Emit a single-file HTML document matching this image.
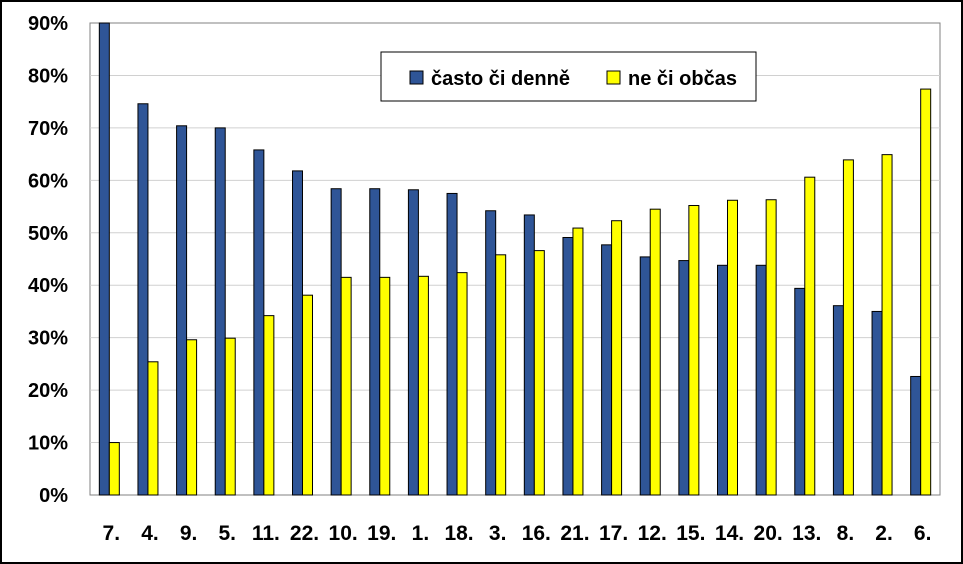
<!DOCTYPE html>
<html><head><meta charset="utf-8"><style>
body{margin:0;background:#fff}
#w{position:relative;width:963px;height:564px;box-sizing:border-box;border:2px solid #000;background:#fff;font-family:"Liberation Sans",sans-serif}
</style></head><body>
<div id="w">
<svg id="s" width="959" height="560" style="position:absolute;left:0;top:0"></svg>
</div>
<script>
const categories=["7.","4.","9.","5.","11.","22.","10.","19.","1.","18.","3.","16.","21.","17.","12.","15.","14.","20.","13.","8.","2.","6."];
const often=[90,74.6,70.4,70,65.8,61.8,58.4,58.4,58.2,57.5,54.2,53.4,49.1,47.7,45.4,44.7,43.8,43.8,39.4,36.1,35,22.6];
const rarely=[10,25.4,29.6,29.9,34.2,38.1,41.5,41.5,41.7,42.4,45.8,46.6,50.9,52.3,54.5,55.2,56.2,56.3,60.6,63.9,64.9,77.4];
const ticks=[0,10,20,30,40,50,60,70,80,90];
const NS="http://www.w3.org/2000/svg",s=document.getElementById('s');
const L=88,R=938,T=21,B=493,MAX=90;
const y=v=>B-(v/MAX)*(B-T);
const bw=(R-L)/categories.length;
const xc=i=>L+bw*(i+0.5);
function mk(t,a,p){const e=document.createElementNS(NS,t);for(const k in a)e.setAttribute(k,a[k]);(p||s).appendChild(e);return e;}
mk('rect',{x:L,y:T,width:R-L,height:B-T,fill:'#fff',stroke:'#808080','stroke-width':1});
ticks.forEach(t=>{
 if(t>0&&t<MAX){const g=mk('line',{x1:L,x2:R,y1:y(t),y2:y(t),stroke:'#d0d0d0'});
 
 }
 const tx=mk('text',{x:66,y:y(t)+7,'text-anchor':'end','font-size':20,'font-weight':'bold'});
 tx.textContent=t+'%';
 
 
});
categories.forEach((c,i)=>{
 const b=mk('rect',{x:xc(i)-10,y:y(often[i]),width:10,height:B-y(often[i]),fill:'#2f5597',stroke:'#000','stroke-width':1});
 
 
 const b2=mk('rect',{x:xc(i),y:y(rarely[i]),width:10,height:B-y(rarely[i]),fill:'#ffff00',stroke:'#000','stroke-width':1});
 
 
 const t=mk('text',{x:xc(i)+2,y:538,'text-anchor':'middle','font-size':21,'font-weight':'bold'});
 t.textContent=c;
 
 
});
const lg=mk('g',{});


mk('rect',{x:379,y:50,width:375,height:49,fill:'#fff',stroke:'#000','stroke-width':1},lg);
mk('rect',{x:408,y:69,width:13,height:13,fill:'#2f5597',stroke:'#000'},lg);
let t1=mk('text',{x:429,y:83,'font-size':20,'font-weight':'bold'},lg);t1.textContent='často či denně';


mk('rect',{x:605,y:69,width:13,height:13,fill:'#ffff00',stroke:'#000'},lg);
let t2=mk('text',{x:626,y:83,'font-size':20,'font-weight':'bold'},lg);t2.textContent='ne či občas';


</script>
</body></html>
